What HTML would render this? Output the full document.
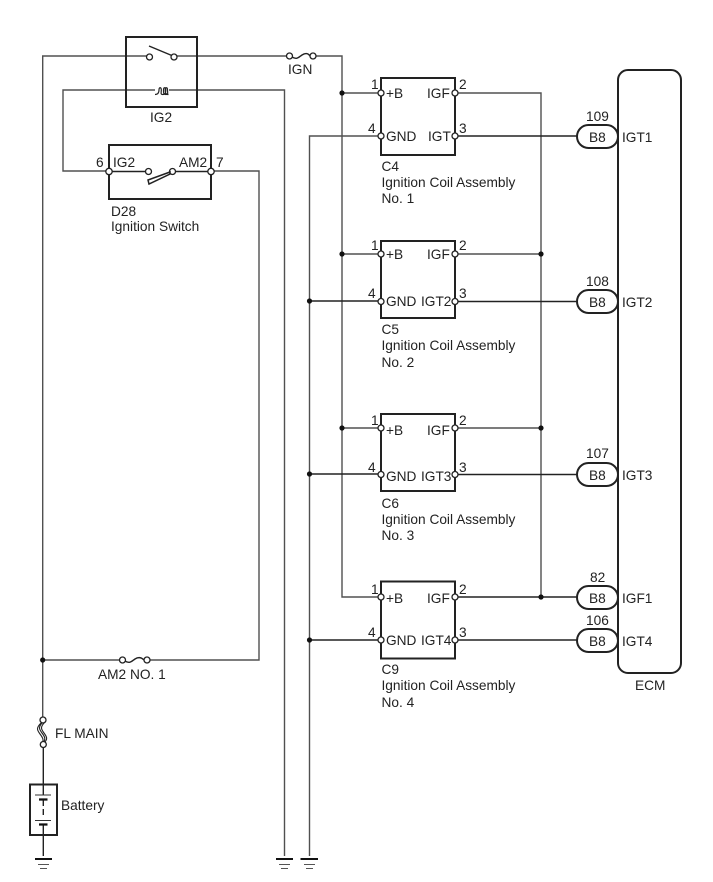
<!DOCTYPE html>
<html><head><meta charset="utf-8"><style>
html,body{margin:0;padding:0;background:#fff;width:713px;height:882px;overflow:hidden}
svg{display:block}
text{font-family:"Liberation Sans",sans-serif;font-size:13.7px;fill:#222}
.w{fill:none;stroke:#505050;stroke-width:1.4}
.k{fill:none;stroke:#222;stroke-width:1.4}
.b{fill:none;stroke:#222;stroke-width:2}
.p{fill:#fff;stroke:#222;stroke-width:1.3}
.d{fill:#111}
</style></head><body>
<svg width="713" height="882" viewBox="0 0 713 882" xmlns="http://www.w3.org/2000/svg">
<!-- main wires -->
<path class="w" d="M42.700 660V56H150M174 56H289M313 56H342V597H381"/>
<path class="w" d="M342 93H381M342 254H381M342 428H381"/>
<path class="w" d="M155 90H63V171H109M169 90H284.500V856"/>
<path class="w" d="M211 171H259V660H147M122 660H42.700V720"/>
<path class="w" d="M381 136H309.500V856"/>
<path class="k" d="M309.500 301H381M309.500 474H381M309.500 640H381"/>
<path class="w" d="M455 93H541V597M455 254H541M455 428H541"/>
<path class="k" d="M455 597H577M455 136H577M455 301.500H577M455 474.500H577M455 640H577"/>
<path class="k" d="M43.300 744V795M43.300 800V806M43.300 809V815M43.300 825V856"/>
<!-- junctions -->
<g class="d"><circle cx="342" cy="93" r="2.600"/><circle cx="342" cy="254" r="2.600"/><circle cx="342" cy="428" r="2.600"/><circle cx="309.500" cy="301" r="2.600"/><circle cx="309.500" cy="474" r="2.600"/><circle cx="309.500" cy="640" r="2.600"/><circle cx="541" cy="254" r="2.600"/><circle cx="541" cy="428" r="2.600"/><circle cx="541" cy="597" r="2.600"/><circle cx="42.700" cy="660" r="2.600"/></g>
<!-- relay -->
<rect class="b" x="126" y="37" width="71" height="70"/>
<path class="k" d="M149 46L173 56"/>
<circle class="p" cx="149.500" cy="57" r="3"/><circle class="p" cx="174" cy="57" r="3"/>
<path class="k" d="M155 94.500c1.500 0 4-.5 4-4.500 0-3 2.300-3 2.300 0s-1 4.500 1.500 4.500 3-1.500 3-4.500c0-3-2.300-3-2.300 0s0 4.500 2.500 4.500 1.500-1.500 1.500-4.500c0-3-2.300-3-2.300 0s.5 4.500 3.300 4.500" style="stroke-width:1.200"/>
<!-- IGN fuse -->
<path class="k" d="M292 57c5 3 7 0 10-2s6-2 8 1"/>
<circle class="p" cx="289.500" cy="56" r="3"/><circle class="p" cx="313" cy="56" r="3"/>
<!-- switch -->
<rect class="b" x="109" y="145" width="102" height="54"/>
<path class="k" d="M109 171.500H146M173 171.500H211"/>
<circle class="p" cx="148.500" cy="171.500" r="3"/><circle class="p" cx="172.500" cy="171.500" r="3"/>
<path class="k" d="M170 172L148 180L149 184L170 174Z" style="stroke-width:1.500"/>
<circle class="p" cx="109" cy="171.500" r="3.200"/><circle class="p" cx="211" cy="171.500" r="3.200"/>
<!-- coil boxes -->
<rect class="b" x="381" y="78" width="74" height="77"/>
<rect class="b" x="381" y="241" width="74" height="77"/>
<rect class="b" x="381" y="414" width="74" height="77"/>
<rect class="b" x="381" y="581.500" width="74" height="77"/>
<g class="p">
<circle cx="381" cy="93" r="3"/><circle cx="455" cy="93" r="3"/><circle cx="381" cy="136" r="3"/><circle cx="455" cy="136" r="3"/>
<circle cx="381" cy="254" r="3"/><circle cx="455" cy="254" r="3"/><circle cx="381" cy="301.500" r="3"/><circle cx="455" cy="301.500" r="3"/>
<circle cx="381" cy="428" r="3"/><circle cx="455" cy="428" r="3"/><circle cx="381" cy="474.500" r="3"/><circle cx="455" cy="474.500" r="3"/>
<circle cx="381" cy="597" r="3"/><circle cx="455" cy="597" r="3"/><circle cx="381" cy="640" r="3"/><circle cx="455" cy="640" r="3"/>
</g>
<!-- connectors -->
<g fill="#fff" stroke="#222" stroke-width="2">
<rect x="577" y="125" width="41" height="23" rx="11.500"/>
<rect x="577" y="290" width="41" height="23" rx="11.500"/>
<rect x="577" y="463" width="41" height="23" rx="11.500"/>
<rect x="577" y="586" width="41" height="23" rx="11.500"/>
<rect x="577" y="629" width="41" height="23" rx="11.500"/>
</g>
<!-- ECM -->
<rect x="618" y="70" width="63" height="603" rx="10" fill="none" stroke="#222" stroke-width="2"/>
<!-- AM2 fuse -->
<path class="k" d="M125 661c5 3 7 0 10-2s6-2 9 1"/>
<circle class="p" cx="122.500" cy="660" r="3"/><circle class="p" cx="147" cy="660" r="3"/>
<!-- FL MAIN -->
<path class="k" style="stroke-width:1.100" d="M43 722c-5 5-4 7-1 11s4 6 1 10M41 723c-5 5-4 7-1 11s4 6 2 10M45 722c-5 5-4 7-1 11s4 6 0 10"/>
<circle class="p" cx="43" cy="720" r="3"/><circle class="p" cx="43.300" cy="744.500" r="3"/>
<!-- battery -->
<rect class="b" x="30" y="784.500" width="27" height="50.500"/>
<path d="M35 795H51M35 820.500H51" stroke="#333" stroke-width="1" fill="none"/>
<path d="M39 799.500H47.500M39 824.500H47.500" stroke="#111" stroke-width="2.200" fill="none"/>
<!-- grounds -->
<g fill="none">
<path stroke="#111" stroke-width="2" d="M35 859H52M276 859H293M300.500 859H318"/>
<path stroke="#555" stroke-width="1" d="M38 864.500H49M279 864.500H290M304 864.500H315M40 868.500H47M281 868.500H288M306 868.500H313"/>
</g>
<!-- labels -->
<text x="288" y="74">IGN</text>
<text x="150" y="122">IG2</text>
<text x="96" y="167">6</text>
<text x="113" y="167">IG2</text>
<text x="179" y="167">AM2</text>
<text x="216" y="167">7</text>
<text x="111" y="216">D28</text>
<text x="111" y="231">Ignition Switch</text>
<text x="98" y="679">AM2 NO. 1</text>
<text x="55" y="738">FL MAIN</text>
<text x="61" y="810">Battery</text>
<text x="371" y="89">1</text><text x="386" y="98">+B</text><text x="427" y="98">IGF</text><text x="459" y="89">2</text>
<text x="368" y="133">4</text><text x="386" y="141">GND</text><text x="428" y="141">IGT</text><text x="459" y="133">3</text>
<text x="381.500" y="171">C4</text><text x="381.500" y="187">Ignition Coil Assembly</text><text x="381.500" y="203">No. 1</text>
<text x="371" y="250">1</text><text x="386" y="259">+B</text><text x="427" y="259">IGF</text><text x="459" y="250">2</text>
<text x="368" y="298">4</text><text x="386" y="306">GND</text><text x="421" y="306">IGT2</text><text x="459" y="298">3</text>
<text x="381.500" y="334">C5</text><text x="381.500" y="350">Ignition Coil Assembly</text><text x="381.500" y="367">No. 2</text>
<text x="371" y="425">1</text><text x="386" y="435">+B</text><text x="427" y="435">IGF</text><text x="459" y="425">2</text>
<text x="368" y="472">4</text><text x="386" y="481">GND</text><text x="421" y="481">IGT3</text><text x="459" y="472">3</text>
<text x="381.500" y="508">C6</text><text x="381.500" y="524">Ignition Coil Assembly</text><text x="381.500" y="540">No. 3</text>
<text x="371" y="594">1</text><text x="386" y="603">+B</text><text x="427" y="603">IGF</text><text x="459" y="594">2</text>
<text x="368" y="637">4</text><text x="386" y="645">GND</text><text x="421" y="645">IGT4</text><text x="459" y="637">3</text>
<text x="381.500" y="674">C9</text><text x="381.500" y="690">Ignition Coil Assembly</text><text x="381.500" y="707">No. 4</text>
<text x="586" y="121">109</text><text x="589" y="142">B8</text><text x="622" y="142">IGT1</text>
<text x="586" y="286">108</text><text x="589" y="307">B8</text><text x="622" y="307">IGT2</text>
<text x="586" y="458">107</text><text x="589" y="480">B8</text><text x="622" y="480">IGT3</text>
<text x="590" y="582">82</text><text x="589" y="603">B8</text><text x="622" y="603">IGF1</text>
<text x="586" y="625">106</text><text x="589" y="646">B8</text><text x="622" y="646">IGT4</text>
<text x="635" y="690">ECM</text>
</svg>
</body></html>
